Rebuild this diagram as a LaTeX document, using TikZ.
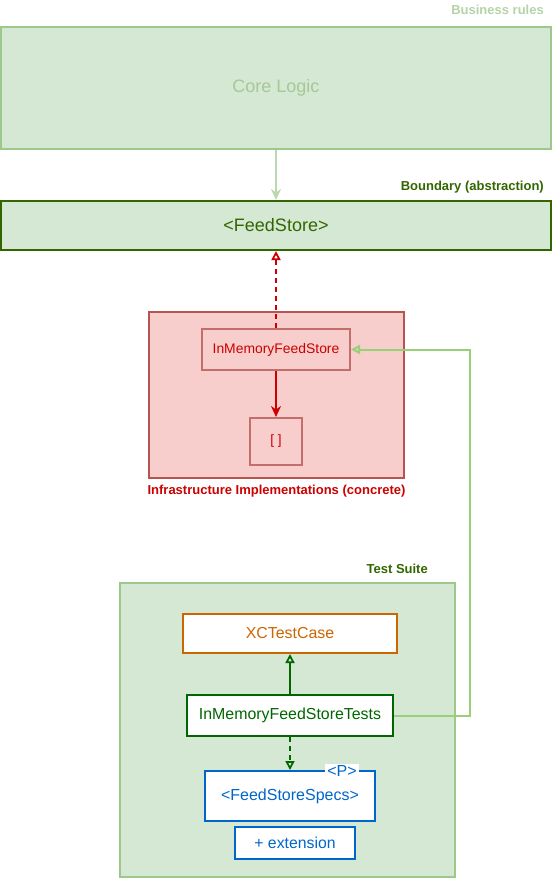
\documentclass[tikz,border=0pt]{standalone}
\usepackage{fontspec}
\setmainfont{Liberation Sans}
\usetikzlibrary{shapes, arrows}
\usetikzlibrary{arrows.meta}
\usetikzlibrary{positioning}
\pgfdeclarelayer{background1}
\pgfsetlayers{background1,main}

\begin{document}
\begin{tikzpicture}[x=1pt,y=-1pt]

	\definecolor{layerfill}{HTML}{D5E8D4}
	\definecolor{layerline}{HTML}{9CC98A}
	\definecolor{coretext}{HTML}{A6C796}
	\definecolor{ruletext}{HTML}{B6D3A7}
	\definecolor{boundcolor}{HTML}{336600}
	\definecolor{infrafill}{HTML}{F8CECC}
	\definecolor{infraline}{HTML}{B85450}
	\definecolor{infracolor}{HTML}{CC0000}
	\definecolor{linkcolor}{HTML}{97D077}
	\definecolor{testcolor}{HTML}{006600}
	\definecolor{xccolor}{HTML}{CC6600}
	\definecolor{speccolor}{HTML}{0066CC}

	\tikzset{
		box/.style={draw, line width=2pt, inner sep=0pt, align=center},
		title/.style={font=\bfseries\fontsize{13}{15}\selectfont, inner sep=0pt},
		open tip/.style={-{Triangle[open,length=9pt,width=9pt]}},
		full tip/.style={-{Stealth[length=11pt,width=10pt,inset=3.5pt]}}
	}

	\useasboundingbox (0,0) rectangle (552,879);

	% business rules
	\node(core) [box, draw=layerline, fill=layerfill, text=coretext, minimum width=550pt, minimum height=122pt, font=\fontsize{18}{21}\selectfont] at (276,88) {Core Logic};
	\node(rules) [title, text=ruletext, anchor=east] at (544,10) {Business rules};

	% boundary
	\node(feedstore) [box, draw=boundcolor, fill=layerfill, text=boundcolor, minimum width=550pt, minimum height=49pt, font=\fontsize{18}{21}\selectfont] at (276,225.5) {<FeedStore>};
	\node(bound) [title, text=boundcolor, anchor=east] at (544,187) {Boundary (abstraction)};

	% infrastructure
	\node(store) [box, draw=infraline!85, fill=infrafill, text=infracolor, minimum width=148pt, minimum height=41pt, font=\fontsize{13.9}{16}\selectfont] at (276,349.5) {InMemoryFeedStore};
	\node(arr) [below=46pt of store, box, draw=infraline!85, fill=infrafill, text=infracolor, minimum width=52pt, minimum height=47pt, font=\fontsize{13.5}{16}\selectfont] {[ ]};
	\node(infra) [title, text=infracolor] at (276.5,491) {Infrastructure Implementations (concrete)};

	\begin{pgfonlayer}{background1}
		\draw [draw=infraline, fill=infrafill, line width=2pt] (149,312) rectangle (404,478);
		\draw [draw=layerline, fill=layerfill, line width=2pt] (120,583) rectangle (455,877);
	\end{pgfonlayer}

	% test suite
	\node(suite) [title, text=boundcolor, anchor=east] at (428,569) {Test Suite};
	\node(xctest) [box, draw=xccolor, fill=white, text=xccolor, minimum width=214pt, minimum height=39pt, font=\fontsize{15.9}{18}\selectfont] at (290,633.5) {XCTestCase};
	\node(tests) [box, draw=testcolor, fill=white, text=testcolor, minimum width=206pt, minimum height=41pt, font=\fontsize{15.9}{18}\selectfont] at (290,715.5) {InMemoryFeedStoreTests};
	\node(specs) [box, draw=speccolor, fill=white, text=speccolor, minimum width=170pt, minimum height=50pt, font=\fontsize{16}{18}\selectfont] at (290,796) {<FeedStoreSpecs>};
	\node(generic) [fill=white, text=speccolor, inner sep=2pt, font=\fontsize{16}{18}\selectfont] at (342,771) {<P>};
	\node(ext) [below=4pt of specs, xshift=5pt, box, draw=speccolor, fill=white, text=speccolor, minimum width=120pt, minimum height=32pt, font=\fontsize{15.8}{18}\selectfont] {+ extension};

	% connectors
	\coordinate(bend) at (470,350);
	\draw [full tip, draw=layerline!70, fill=layerline!70, line width=1.75pt] (core) -- (feedstore);
	\draw [open tip, draw=infracolor, line width=1.75pt, dash pattern=on 5pt off 4pt] (store) -- (feedstore);
	\draw [full tip, draw=infracolor, fill=infracolor, line width=1.75pt] (store) -- (arr);
	\draw [open tip, draw=linkcolor, line width=2pt] (tests.east) -- (tests.east -| bend) |- (store.east);
	\draw [open tip, draw=testcolor, line width=1.75pt] (tests) -- (xctest);
	\draw [open tip, draw=testcolor, line width=1.75pt, dash pattern=on 5pt off 4pt] (tests) -- (specs);

\end{tikzpicture}
\end{document}
